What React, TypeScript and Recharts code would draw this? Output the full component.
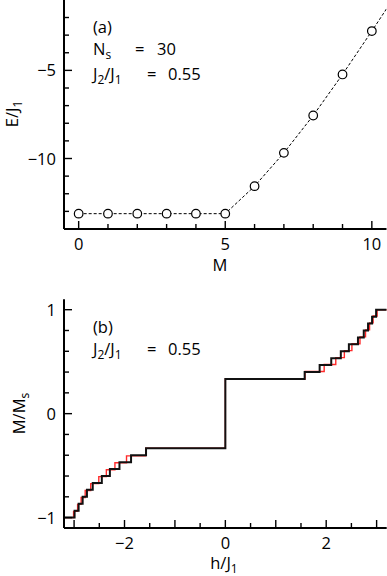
import React from "react"
import { LineChart, Line, XAxis, YAxis } from "recharts"

const FONT = "'Open Sans', sans-serif"

// panel (a): ground-state energy vs M
const mValues = [0, 1, 2, 3, 4, 5, 6, 7, 8, 9, 10, 11]
const energyValues = [-13.13, -13.13, -13.13, -13.13, -13.13, -13.13, -11.57, -9.68, -7.56, -5.23, -2.77, -0.25]

const aXTicks = [0, 1, 2, 3, 4, 5, 6, 7, 8, 9, 10]
const aXMajor = [0, 5, 10]
const aYTicks = [-13, -12, -11, -10, -9, -8, -7, -6, -5, -4, -3, -2]
const aYMajor = [-10, -5]

// panel (b): magnetization curves (step positions / plateau values)
const blackField = [-3.2, -2.99, -2.91, -2.83, -2.745, -2.63, -2.45, -2.29, -2.1, -1.87, -1.573, 0, 1.573, 1.87, 2.1, 2.29, 2.45, 2.63, 2.745, 2.83, 2.91, 2.99, 3.2]
const blackMag = [-1, -0.933, -0.867, -0.8, -0.733, -0.667, -0.6, -0.533, -0.467, -0.4, -0.333, 0.333, 0.4, 0.467, 0.533, 0.6, 0.667, 0.733, 0.8, 0.867, 0.933, 1, 1]
const redField = [-3.2, -3.01, -2.93, -2.86, -2.78, -2.67, -2.51, -2.36, -2.19, -1.96, -1.58, 0, 1.58, 1.96, 2.19, 2.36, 2.51, 2.67, 2.78, 2.86, 2.93, 3.01, 3.2]
const redMag = [-1, -0.94, -0.873, -0.806, -0.739, -0.673, -0.606, -0.539, -0.473, -0.406, -0.333, 0.333, 0.406, 0.473, 0.539, 0.606, 0.673, 0.739, 0.806, 0.873, 0.94, 1, 1]

const bXTicks = [-3, -2.5, -2, -1.5, -1, -0.5, 0, 0.5, 1, 1.5, 2, 2.5, 3]
const bXMajor = [-3, -2, -1, 0, 1, 2, 3]
const bXLabels = [-2, 0, 2]
const bYTicks = [-1, -0.8, -0.6, -0.4, -0.2, 0, 0.2, 0.4, 0.6, 0.8, 1]
const bYLabels = [-1, 0, 1]

const energyData = mValues.map((m, i) => ({ m, e: energyValues[i] }))
const blackData = blackField.map((h, i) => ({ h, v: blackMag[i] }))
const redData = redField.map((h, i) => ({ h, v: redMag[i] }))

const has = (arr: number[], v: number) => arr.some(a => Math.abs(a - v) < 1e-6)
const fmt = (v: number) => (v < 0 ? "\u2212" + Math.abs(v) : String(v))

const textStyle = { fontFamily: FONT, fontSize: 16.5, fill: "#000" }

// side: which edge of the frame the axis sits on; ticks always point inward
function tickFor(side: "b" | "t" | "l" | "r", major: number[], labels: number[]) {
  return (props: any) => {
    const { x, y, payload } = props
    const v = payload.value
    const len = has(major, v) ? 8 : 5
    let line
    if (side === "b") line = <line x1={x} x2={x} y1={y} y2={y - len} />
    else if (side === "t") line = <line x1={x} x2={x} y1={y} y2={y + len} />
    else if (side === "l") line = <line x1={x} x2={x + len} y1={y} y2={y} />
    else line = <line x1={x} x2={x - len} y1={y} y2={y} />
    return (
      <g stroke="#000" strokeWidth={1.4}>
        {line}
        {side === "b" && has(labels, v) && (
          <text x={x} y={y + 21} textAnchor="middle" stroke="none" style={textStyle}>{fmt(v)}</text>
        )}
        {side === "l" && has(labels, v) && (
          <text x={x - 8} y={y + 6} textAnchor="end" stroke="none" style={textStyle}>{fmt(v)}</text>
        )}
      </g>
    )
  }
}

const frame = { stroke: "#000", strokeWidth: 2 }

function Sub({ children }: { children: React.ReactNode }) {
  return <tspan fontSize={12} dy={4}>{children}</tspan>
}

export default function App() {
  return (
    <div style={{ position: "absolute", left: 0, top: 0, width: 387, height: 576, background: "#fff", overflow: "hidden" }}>
      <div style={{ position: "absolute", left: 0, top: -1 }}>
        <LineChart width={387} height={272} data={energyData} margin={{ top: 0, right: 0.5, bottom: 0, left: 0 }}>
          <XAxis xAxisId="b" dataKey="m" type="number" domain={[-0.5, 10.5]} allowDataOverflow ticks={aXTicks}
            interval={0} height={42} tickSize={0} tickMargin={0} tickLine={false} axisLine={frame}
            tick={tickFor("b", aXMajor, aXMajor)} />
          <XAxis xAxisId="t" orientation="top" dataKey="m" type="number" domain={[-0.5, 10.5]} allowDataOverflow
            ticks={aXTicks} interval={0} height={0} tickSize={0} tickMargin={0} tickLine={false} axisLine={frame}
            tick={tickFor("t", aXMajor, [])} />
          <YAxis yAxisId="l" type="number" domain={[-14, -0.95]} allowDataOverflow ticks={aYTicks} interval={0}
            width={64} tickSize={0} tickMargin={0} tickLine={false} axisLine={frame}
            tick={tickFor("l", aYMajor, aYMajor)} />
          <YAxis yAxisId="r" orientation="right" type="number" domain={[-14, -0.95]} allowDataOverflow ticks={aYTicks}
            interval={0} width={0} tickSize={0} tickMargin={0} tickLine={false} axisLine={frame}
            tick={tickFor("r", aYMajor, [])} />
          <Line xAxisId="b" yAxisId="l" dataKey="e" type="linear" stroke="#000" strokeWidth={1}
            strokeDasharray="3 2" isAnimationActive={false}
            dot={{ r: 4.3, stroke: "#000", strokeWidth: 1.2, fill: "#fff", strokeDasharray: "0" }} />
        </LineChart>
      </div>

      <div style={{ position: "absolute", left: 0, top: 270 }}>
        <LineChart width={387} height={306} margin={{ top: 29.3, right: 0.3, bottom: 0, left: 0 }}>
          <XAxis xAxisId="b" dataKey="h" type="number" domain={[-3.2, 3.2]} allowDataOverflow ticks={bXTicks}
            interval={0} height={48} tickSize={0} tickMargin={0} tickLine={false} axisLine={frame}
            tick={tickFor("b", bXMajor, bXLabels)} />
          <XAxis xAxisId="t" orientation="top" dataKey="h" type="number" domain={[-3.2, 3.2]} allowDataOverflow
            ticks={bXTicks} interval={0} height={0} tickSize={0} tickMargin={0} tickLine={false} axisLine={frame}
            tick={tickFor("t", bXMajor, [])} />
          <YAxis yAxisId="l" type="number" domain={[-1.1, 1.1]} allowDataOverflow ticks={bYTicks} interval={0}
            width={64} tickSize={0} tickMargin={0} tickLine={false} axisLine={frame}
            tick={tickFor("l", bYLabels, bYLabels)} />
          <YAxis yAxisId="r" orientation="right" type="number" domain={[-1.1, 1.1]} allowDataOverflow ticks={bYTicks}
            interval={0} width={0} tickSize={0} tickMargin={0} tickLine={false} axisLine={frame}
            tick={tickFor("r", bYLabels, [])} />
          <Line xAxisId="b" yAxisId="l" data={redData} dataKey="v" type="stepAfter" stroke="#ff2a2a"
            strokeWidth={1.4} dot={false} isAnimationActive={false} />
          <Line xAxisId="b" yAxisId="l" data={blackData} dataKey="v" type="stepAfter" stroke="#111"
            strokeWidth={2} dot={false} isAnimationActive={false} />
        </LineChart>
      </div>

      <svg width={387} height={576} style={{ position: "absolute", left: 0, top: 0, pointerEvents: "none" }}>
        <g style={textStyle}>
          {/* panel (a) */}
          <text transform="translate(18,114) rotate(-90)" textAnchor="middle">E/J<Sub>1</Sub></text>
          <text x={220} y={270.5} textAnchor="middle">M</text>
          <text x={93} y={32.5}>(a)</text>
          <text x={93} y={55}>N<Sub>s</Sub></text>
          <text x={135} y={55}>=</text>
          <text x={157} y={55}>30</text>
          <text x={93} y={79.5}>J<Sub>2</Sub><tspan dy={-4}>/J</tspan><Sub>1</Sub></text>
          <text x={147} y={79.5}>=</text>
          <text x={168} y={79.5}>0.55</text>

          {/* panel (b) */}
          <text transform="translate(25,413.5) rotate(-90)" textAnchor="middle">M/M<Sub>s</Sub></text>
          <text x={224} y={568.5} textAnchor="middle">h/J<Sub>1</Sub></text>
          <text x={93} y={333}>(b)</text>
          <text x={93} y={355}>J<Sub>2</Sub><tspan dy={-4}>/J</tspan><Sub>1</Sub></text>
          <text x={147} y={355}>=</text>
          <text x={168} y={355}>0.55</text>
        </g>
      </svg>
    </div>
  )
}
